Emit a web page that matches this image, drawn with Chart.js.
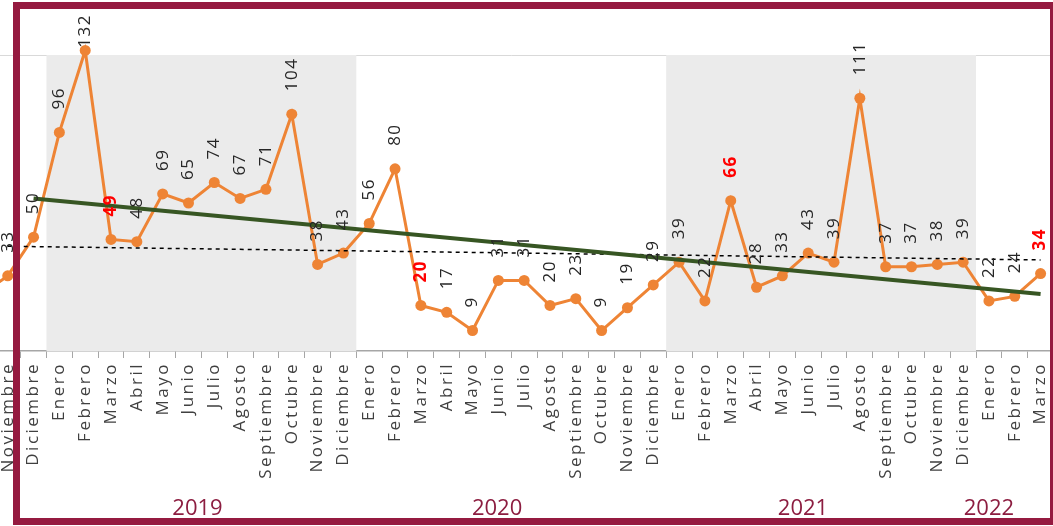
<!DOCTYPE html>
<html>
<head>
<meta charset="utf-8">
<script src="https://cdn.jsdelivr.net/npm/chart.js@4"></script>
<style>
  html, body { margin: 0; padding: 0; background: #fff; }
  #wrap { position: relative; width: 1053px; height: 526px; overflow: hidden; background: #fff; }
  #box { position: absolute; left: -40px; top: 0; width: 1099px; height: 526px; }
  #frame { position: absolute; left: 13px; top: 2px; width: 1044px; height: 523px;
           box-sizing: border-box; border: 7px solid #951a40; pointer-events: none; }
</style>
</head>
<body>
<div id="wrap">
  <div id="box"><canvas id="chart"></canvas></div>
  <div id="frame"></div>
</div>
<script>
// Meses (eje X) y año de cada mes
const meses = [
  'Octubre', 'Noviembre', 'Diciembre',
  'Enero', 'Febrero', 'Marzo', 'Abril', 'Mayo', 'Junio', 'Julio', 'Agosto', 'Septiembre', 'Octubre', 'Noviembre', 'Diciembre',
  'Enero', 'Febrero', 'Marzo', 'Abril', 'Mayo', 'Junio', 'Julio', 'Agosto', 'Septiembre', 'Octubre', 'Noviembre', 'Diciembre',
  'Enero', 'Febrero', 'Marzo', 'Abril', 'Mayo', 'Junio', 'Julio', 'Agosto', 'Septiembre', 'Octubre', 'Noviembre', 'Diciembre',
  'Enero', 'Febrero', 'Marzo'
];
const anios = [
  2018, 2018, 2018,
  2019, 2019, 2019, 2019, 2019, 2019, 2019, 2019, 2019, 2019, 2019, 2019,
  2020, 2020, 2020, 2020, 2020, 2020, 2020, 2020, 2020, 2020, 2020, 2020,
  2021, 2021, 2021, 2021, 2021, 2021, 2021, 2021, 2021, 2021, 2021, 2021,
  2022, 2022, 2022
];

// Serie mensual
const casos = [
  25, 33, 50,
  96, 132, 49, 48, 69, 65, 74, 67, 71, 104, 38, 43,
  56, 80, 20, 17, 9, 31, 31, 20, 23, 9, 19, 29,
  39, 22, 66, 28, 33, 43, 39, 111, 37, 37, 38, 39,
  22, 24, 34
];

// Etiquetas resaltadas en rojo (mes de marzo de cada año)
const resaltados = [
  false, false, false,
  false, false, true, false, false, false, false, false, false, false, false, false,
  false, false, true, false, false, false, false, false, false, false, false, false,
  false, false, true, false, false, false, false, false, false, false, false, false,
  false, false, true
];

// Tendencia (verde) y promedio (punteado): solo extremos
const tendencia = [null, null, 67].concat(new Array(38).fill(null), [25]);
const promedio = [null, 46].concat(new Array(39).fill(null), [40]);

// Años con fondo gris y rótulos de año
const aniosSombreados = [2019, 2021];
const rotulosAnio = ['2019', '2020', '2021', '2022'];

const ORANGE = '#ee8435';
const GREEN = '#375623';
const MAROON = '#8c1d40';

function indicesDe(anio) {
  const idx = [];
  anios.forEach((a, i) => { if (a === anio) idx.push(i); });
  return idx;
}

// Bandas grises por año
const bandas = {
  id: 'bandas',
  beforeDraw(chart) {
    chart.ctx.letterSpacing = '2.5px';
  },
  beforeDatasetsDraw(chart) {
    const { ctx, chartArea, scales } = chart;
    ctx.letterSpacing = '0px';
    ctx.save();
    ctx.fillStyle = '#ebebeb';
    aniosSombreados.forEach(a => {
      const idx = indicesDe(a);
      const x0 = scales.x.getPixelForValue(idx[0] - 0.5);
      const x1 = scales.x.getPixelForValue(idx[idx.length - 1] + 0.5);
      ctx.fillRect(x0, chartArea.top, x1 - x0, chartArea.bottom - chartArea.top);
    });
    ctx.restore();
  }
};

// Rótulos de datos rotados
const rotulos = {
  id: 'rotulos',
  afterDatasetsDraw(chart) {
    const { ctx } = chart;
    const meta = chart.getDatasetMeta(2);
    ctx.save();
    ctx.letterSpacing = '1.5px';
    meta.data.forEach((pt, i) => {
      const txt = String(casos[i]);
      ctx.font = (resaltados[i] ? 'bold ' : '') + '17px "Open Sans"';
      ctx.fillStyle = resaltados[i] ? '#ff0000' : '#262626';
      const w = ctx.measureText(txt).width;
      let start = pt.y - 23;
      if (start - w < 14) start = 14 + w;
      ctx.save();
      ctx.translate(pt.x, start);
      ctx.rotate(-Math.PI / 2);
      ctx.textAlign = 'left';
      ctx.textBaseline = 'middle';
      ctx.fillText(txt, 0, 0);
      ctx.restore();
    });
    ctx.restore();
  },
  afterDraw(chart) {
    const { ctx, scales } = chart;
    const centros = { '2019': 8.35, '2020': 19.95, '2021': 31.8, '2022': 39.0 };
    ctx.save();
    ctx.letterSpacing = '0px';
    ctx.font = '22px "Open Sans"';
    ctx.fillStyle = MAROON;
    ctx.textAlign = 'center';
    ctx.textBaseline = 'alphabetic';
    rotulosAnio.forEach(a => {
      ctx.fillText(a, scales.x.getPixelForValue(centros[a]), 515);
    });
    ctx.restore();
  }
};

new Chart(document.getElementById('chart'), {
  type: 'line',
  data: {
    labels: meses,
    datasets: [
      {
        label: 'Tendencia',
        data: tendencia,
        borderColor: GREEN,
        borderWidth: 4,
        pointRadius: 0,
        spanGaps: true,
        order: 0,
        clip: false
      },
      {
        label: 'Promedio',
        data: promedio,
        borderColor: '#000',
        borderWidth: 1.5,
        borderDash: [4, 4],
        pointRadius: 0,
        spanGaps: true,
        order: 1,
        clip: false
      },
      {
        label: 'Casos',
        data: casos,
        borderColor: ORANGE,
        backgroundColor: ORANGE,
        borderWidth: 3,
        pointRadius: 5.5,
        pointBorderWidth: 0,
        pointBackgroundColor: ORANGE,
        tension: 0,
        order: 2,
        clip: false
      }
    ]
  },
  options: {
    responsive: true,
    maintainAspectRatio: false,
    animation: false,
    devicePixelRatio: 1,
    layout: { padding: { left: 9, right: 0, top: 55, bottom: 0 } },
    plugins: {
      legend: { display: false },
      tooltip: { enabled: false }
    },
    scales: {
      x: {
        offset: true,
        grid: { offset: true, drawOnChartArea: false, tickLength: 7, color: '#a6a6a6', lineWidth: 1 },
        border: { color: '#a6a6a6', width: 1.5 },
        ticks: {
          autoSkip: false,
          minRotation: 90,
          maxRotation: 90,
          padding: 4,
          color: '#404040',
          font: { family: 'Open Sans', size: 17 }
        },
        afterFit: s => { s.height = 175; s.paddingLeft = 0; s.paddingRight = 0; }
      },
      y: {
        min: 0,
        max: 130,
        ticks: { display: false, stepSize: 130 },
        border: { display: false },
        grid: {
          drawTicks: false,
          color: c => (c.tick && c.tick.value === 130 ? '#d9d9d9' : 'rgba(0,0,0,0)')
        },
        afterFit: s => { s.width = 0; }
      }
    }
  },
  plugins: [bandas, rotulos]
});
</script>
</body>
</html>
